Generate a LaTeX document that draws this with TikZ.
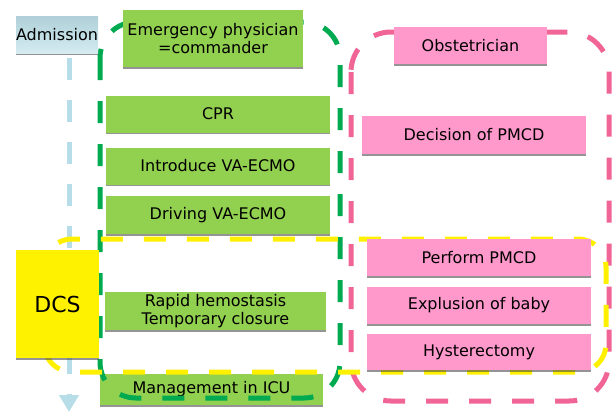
\documentclass[tikz,border=0pt]{standalone}
\usepackage{fontspec}
\setmainfont{DejaVu Sans}
\usetikzlibrary{arrows.meta,shadows}

\definecolor{boxgreen}{RGB}{146,208,80}
\definecolor{framegreen}{RGB}{0,170,80}
\definecolor{boxpink}{RGB}{255,153,204}
\definecolor{framepink}{RGB}{240,100,150}
\definecolor{frameyellow}{RGB}{255,240,0}
\definecolor{flowblue}{RGB}{183,222,232}

\tikzset{
	stepgreen/.style={fill=boxgreen, inner sep=0pt, align=center,
		drop shadow={shadow xshift=0.3pt, shadow yshift=-1.6pt, fill=black!70, opacity=0.6},
		font=\fontsize{16}{18.5}\selectfont},
	steppink/.style={stepgreen, fill=boxpink},
	frame/.style={line width=5pt, dash pattern=on 22pt off 21pt},
}

\begin{document}
\begin{tikzpicture}[x=1pt,y=-1pt]

	\useasboundingbox (0,0) rectangle (612,413);

	% flow line
	\coordinate (flowtop) at (69,58);
	\coordinate (flowend) at (69,412);
	\draw[flowblue, line width=5pt, dash pattern=on 22pt off 20pt,
		-{Triangle[width=19pt,length=17pt]}] (flowtop) -- (flowend);

	\node[stepgreen] (icu) at (211.5,389.5) [minimum width=223pt, minimum height=31pt] {Management in ICU};

	% dashed frames
	\draw[frame, framepink, rounded corners=40pt] (351,32) rectangle (609,401);
	\draw[frame, framegreen, rounded corners=36pt] (100,22) rectangle (340,398);
	\draw[frame, frameyellow, rounded corners=28pt] (44,239) rectangle (606,372);

	% left column
	\node[stepgreen, top color=flowblue!85!gray, bottom color=flowblue!60!white]
		(adm) at (57,34.5) [minimum width=82pt, minimum height=37pt] {Admission};
	\node[stepgreen, fill=yellow, drop shadow={opacity=0}, font=\fontsize{22}{25}\selectfont]
		(dcs) at (57.5,304) [minimum width=83pt, minimum height=108pt] {DCS};

	% emergency physician
	\node[stepgreen] (emer) at (213,38.5) [minimum width=180pt, minimum height=57pt] {Emergency physician\\=commander};
	\node[stepgreen] (cpr) at (218,114) [minimum width=224pt, minimum height=37pt] {CPR};
	\node[stepgreen] (intro) at (218,166) [minimum width=224pt, minimum height=37pt] {Introduce VA-ECMO};
	\node[stepgreen] (drive) at (218,215) [minimum width=224pt, minimum height=38pt] {Driving VA-ECMO};
	\node[stepgreen] (rapid) at (215.5,311) [minimum width=221pt, minimum height=38pt] {Rapid hemostasis\\Temporary closure};

	% obstetrician
	\node[steppink] (obst) at (470.5,45.5) [minimum width=153pt, minimum height=37pt] {Obstetrician};
	\node[steppink] (decis) at (474,135) [minimum width=224pt, minimum height=38pt] {Decision of PMCD};
	\node[steppink] (perf) at (479,257.5) [minimum width=224pt, minimum height=37pt] {Perform PMCD};
	\node[steppink] (expl) at (479,305.5) [minimum width=224pt, minimum height=37pt] {Explusion of baby};
	\node[steppink] (hyst) at (479,352) [minimum width=224pt, minimum height=36pt] {Hysterectomy};

\end{tikzpicture}
\end{document}
